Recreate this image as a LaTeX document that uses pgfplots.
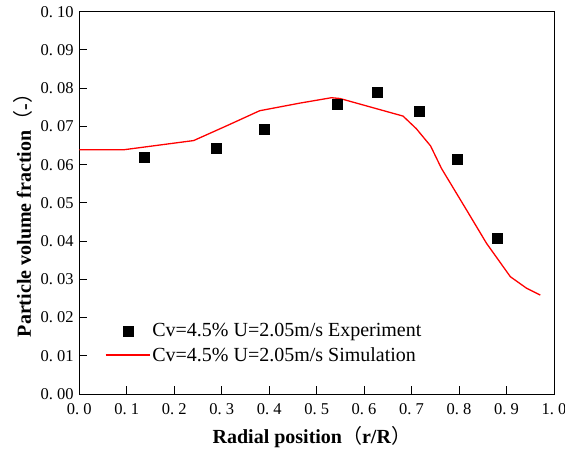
\documentclass[border=0pt]{standalone}
\usepackage{pgfplots}
\pgfplotsset{compat=1.18}
\usepackage{fontspec}
\setmainfont{Liberation Serif}
\newfontfamily\cjk{Noto Sans CJK SC}
\begin{document}
\begin{tikzpicture}
\begin{axis}[
  scale only axis,
  width=475pt, height=382.6pt,
  xmin=0, xmax=1.0, ymin=0, ymax=0.10,
  axis line style={line width=0.9pt},
  xtick={0,0.1,...,1.0},
  xticklabels={0.\ 0,0.\ 1,0.\ 2,0.\ 3,0.\ 4,0.\ 5,0.\ 6,0.\ 7,0.\ 8,0.\ 9,1.\ 0},
  ytick={0,0.01,...,0.10},
  yticklabels={0.\ 00,0.\ 01,0.\ 02,0.\ 03,0.\ 04,0.\ 05,0.\ 06,0.\ 07,0.\ 08,0.\ 09,0.\ 10},
  tick align=inside,
  xtick pos=bottom, ytick pos=left,
  major tick length=8pt,
  tick style={black, line width=0.9pt},
  tick label style={font=\fontsize{16.5}{19}\selectfont},
  xticklabel style={yshift=-6pt},
  yticklabel style={xshift=-2pt},
  xlabel={\textbf{Radial position}{\cjk （}\textbf{r/R}{\cjk ）}},
  ylabel={\textbf{Particle volume fraction}{\cjk （}\textbf{-}{\cjk ）}},
  xlabel style={font=\fontsize{20}{24}\selectfont, at={(axis description cs:0.49,-0.112)}, anchor=center},
  ylabel style={font=\fontsize{20}{24}\selectfont, at={(axis description cs:-0.118,0.48)}, anchor=center, rotate=0},
  legend style={draw=none, fill=none, at={(axis description cs:0.054,0.19)}, anchor=north west,
    font=\fontsize{20}{24}\selectfont, row sep=5pt, inner sep=0pt, cells={anchor=west}},
  legend image code/.code={\draw[mark repeat=2,mark phase=2] plot coordinates {(0pt,0pt) (22pt,0pt) (44pt,0pt)};},
]
\addplot[only marks, mark=square*, mark size=5pt, black] coordinates {
(0.137,0.0619)(0.289,0.0644)(0.389,0.0692)(0.543,0.0757)(0.628,0.0789)(0.715,0.0740)(0.797,0.0614)(0.881,0.0407)};
\addlegendentry{Cv=4.5\% U=2.05m/s Experiment}
\addplot[red, line width=1.3pt, mark=none] coordinates {
(0,0.0639)(0.094,0.0639)(0.241,0.0663)(0.313,0.0703)(0.38,0.0741)(0.465,0.0761)(0.531,0.0775)(0.549,0.0773)(0.682,0.0727)(0.71,0.0694)(0.74,0.0649)(0.763,0.0590)(0.816,0.0481)(0.858,0.0394)(0.908,0.0307)(0.942,0.0277)(0.971,0.0259)};
\addlegendentry{Cv=4.5\% U=2.05m/s Simulation}
\end{axis}
\pgfresetboundingbox
\useasboundingbox ([xshift=-79.3pt,yshift=-55.7pt]current axis.south west) rectangle ([xshift=11pt,yshift=11.7pt]current axis.north east);
\end{tikzpicture}
\end{document}
